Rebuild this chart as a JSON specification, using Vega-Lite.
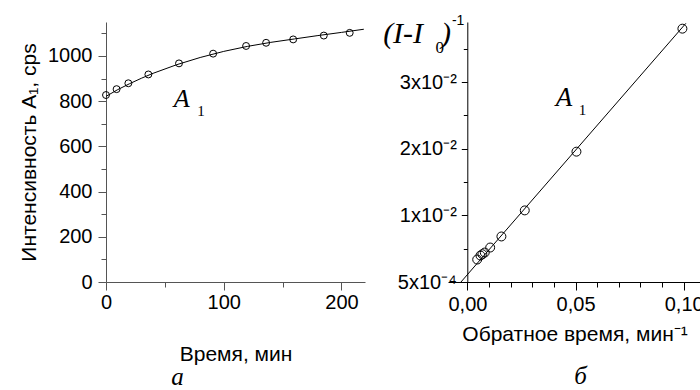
{
  "$schema": "https://vega.github.io/schema/vega-lite/v6.json",
  "autosize": {"type": "pad"},
  "padding": {"left": 18, "top": 13, "right": 0, "bottom": 0},
  "background": "white",
  "bounds": "flush",
  "spacing": 83,
  "config": {"view": {"stroke": null}, "font": "Liberation Sans", "axis": {"grid": false, "labelColor": "black", "titleColor": "black", "titleFontWeight": "normal"}},
  "datasets": {
    "curve": [
      {"t": 0, "I": 821}, {"t": 10, "I": 851}, {"t": 20, "I": 877}, {"t": 30, "I": 901},
      {"t": 40, "I": 923}, {"t": 60, "I": 961}, {"t": 80, "I": 993}, {"t": 100, "I": 1020},
      {"t": 120, "I": 1042}, {"t": 140, "I": 1060}, {"t": 160, "I": 1075}, {"t": 180, "I": 1090},
      {"t": 200, "I": 1104}, {"t": 219, "I": 1118}
    ],
    "points": [
      {"t": 0, "I": 827}, {"t": 9, "I": 853}, {"t": 19, "I": 879}, {"t": 36, "I": 918},
      {"t": 62, "I": 967}, {"t": 91, "I": 1010}, {"t": 119, "I": 1044}, {"t": 136, "I": 1058},
      {"t": 159, "I": 1073}, {"t": 185, "I": 1090}, {"t": 207, "I": 1102}
    ],
    "fit": [
      {"inv": -0.003, "r": 0}, {"inv": 0.101, "r": 0.0388}
    ],
    "inverse": [
      {"inv": 0.0994, "r": 0.0380}, {"inv": 0.0504, "r": 0.01955}, {"inv": 0.0265, "r": 0.01074},
      {"inv": 0.0157, "r": 0.00683}, {"inv": 0.0105, "r": 0.00517}, {"inv": 0.0080, "r": 0.00442},
      {"inv": 0.0069, "r": 0.00417}, {"inv": 0.0060, "r": 0.00397}, {"inv": 0.0045, "r": 0.00337}
    ]
  },
  "hconcat": [
    {
      "width": 259,
      "height": 260,
      "title": {"text": "а", "orient": "bottom", "anchor": "middle", "dx": -58, "offset": 1, "font": "Liberation Serif", "fontStyle": "italic", "fontWeight": "normal", "fontSize": 25, "color": "black"},
      "resolve": {"axis": {"x": "independent", "y": "independent"}},
      "layer": [
        {
          "data": {"name": "curve"},
          "mark": {"type": "line", "color": "black", "strokeWidth": 1, "clip": false},
          "encoding": {
            "x": {"field": "t", "type": "quantitative", "scale": {"domain": [0, 220], "nice": false, "zero": false},
              "axis": {"orient": "bottom", "values": [0, 100, 200], "format": "d", "tickSize": 8, "labelPadding": 2, "labelFontSize": 20, "domainColor": "#555", "tickColor": "#555", "title": "Время, мин", "titleFontSize": 21, "titlePadding": 31, "labelFlush": false}},
            "y": {"field": "I", "type": "quantitative", "scale": {"domain": [0, 1150], "nice": false, "zero": false},
              "axis": {"orient": "left", "values": [0, 200, 400, 600, 800, 1000], "format": "d", "tickSize": 8, "labelPadding": 6, "labelFontSize": 20, "domainColor": "#555", "tickColor": "#555", "title": "Интенсивность A₁, cps", "titleFontSize": 21, "titlePadding": 8}}
          }
        },
        {
          "data": {"name": "points"},
          "mark": {"type": "point", "shape": "circle", "filled": false, "stroke": "black", "strokeWidth": 1, "opacity": 1, "size": 48},
          "encoding": {
            "x": {"field": "t", "type": "quantitative", "axis": {"orient": "bottom", "values": [50, 150], "tickSize": 5, "labels": false, "domain": false, "tickColor": "#555", "title": null}},
            "y": {"field": "I", "type": "quantitative", "axis": {"orient": "left", "values": [100, 300, 500, 700, 900, 1100], "tickSize": 5, "labels": false, "domain": false, "tickColor": "#555", "title": null}}
          }
        },
        {
          "data": {"values": [{"s": "A"}]},
          "mark": {"type": "text", "font": "Liberation Serif", "fontStyle": "italic", "fontSize": 26, "align": "left", "baseline": "alphabetic", "color": "black"},
          "encoding": {
            "x": {"datum": 57.5, "type": "quantitative", "axis": null},
            "y": {"datum": 772, "type": "quantitative", "axis": null},
            "text": {"field": "s"}
          }
        },
        {
          "data": {"values": [{"s": "1"}]},
          "mark": {"type": "text", "font": "Liberation Serif", "fontSize": 15, "align": "left", "baseline": "alphabetic", "color": "black"},
          "encoding": {
            "x": {"datum": 77.5, "type": "quantitative", "axis": null},
            "y": {"datum": 733, "type": "quantitative", "axis": null},
            "text": {"field": "s"}
          }
        }
      ]
    },
    {
      "width": 253,
      "height": 260,
      "title": {"text": "б", "orient": "bottom", "anchor": "middle", "dx": 6, "offset": 20, "font": "Liberation Serif", "fontStyle": "italic", "fontWeight": "normal", "fontSize": 25, "color": "black"},
      "resolve": {"axis": {"x": "independent", "y": "independent"}},
      "layer": [
        {
          "data": {"name": "fit"},
          "mark": {"type": "line", "color": "black", "strokeWidth": 1, "clip": false},
          "encoding": {
            "x": {"field": "inv", "type": "quantitative", "scale": {"domain": [-0.009, 0.108], "nice": false, "zero": false},
              "axis": {"orient": "bottom", "values": [0, 0.05, 0.1], "labelExpr": "replace(format(datum.value, '.2f'), '.', ',')", "tickSize": 8, "labelPadding": 4, "labelFontSize": 20, "domainColor": "black", "tickColor": "black", "title": "Обратное время, мин⁻¹", "titleFontSize": 21, "titlePadding": 9, "labelFlush": false}},
            "y": {"field": "r", "type": "quantitative", "scale": {"domain": [0, 0.039], "nice": false, "zero": false},
              "axis": {"orient": "left", "offset": -19.3, "values": [0, 0.01, 0.02, 0.03], "labelExpr": "datum.value == 0 ? '5x10⁻⁴' : round(datum.value * 100) + 'x10⁻²'", "tickSize": 6, "labelPadding": 5, "labelFontSize": 20, "domainColor": "black", "tickColor": "black", "title": null}}
          }
        },
        {
          "data": {"name": "inverse"},
          "mark": {"type": "point", "shape": "circle", "filled": false, "stroke": "black", "strokeWidth": 1, "opacity": 1, "size": 80},
          "encoding": {
            "x": {"field": "inv", "type": "quantitative", "axis": {"orient": "bottom", "values": [0.01, 0.02, 0.03, 0.04, 0.06, 0.07, 0.08, 0.09], "tickSize": 5, "labels": false, "domain": false, "tickColor": "black", "title": null}},
            "y": {"field": "r", "type": "quantitative", "axis": {"orient": "left", "offset": -19.3, "values": [0.005, 0.015, 0.025, 0.035], "tickSize": 4, "labels": false, "domain": false, "tickColor": "black", "title": null}}
          }
        },
        {
          "data": {"values": [{"s": "A"}]},
          "mark": {"type": "text", "font": "Liberation Serif", "fontStyle": "italic", "fontSize": 27, "align": "left", "baseline": "alphabetic", "color": "black"},
          "encoding": {
            "x": {"datum": 0.0408, "type": "quantitative", "axis": null},
            "y": {"datum": 0.02642, "type": "quantitative", "axis": null},
            "text": {"field": "s"}
          }
        },
        {
          "data": {"values": [{"s": "1"}]},
          "mark": {"type": "text", "font": "Liberation Serif", "fontSize": 15, "align": "left", "baseline": "alphabetic", "color": "black"},
          "encoding": {
            "x": {"datum": 0.0515, "type": "quantitative", "axis": null},
            "y": {"datum": 0.02508, "type": "quantitative", "axis": null},
            "text": {"field": "s"}
          }
        },
        {
          "data": {"values": [{"s": "(I-I"}]},
          "mark": {"type": "text", "font": "Liberation Serif", "fontStyle": "italic", "fontSize": 30, "align": "left", "baseline": "alphabetic", "color": "black"},
          "encoding": {
            "x": {"datum": -0.0390, "type": "quantitative", "axis": null},
            "y": {"datum": 0.03585, "type": "quantitative", "axis": null},
            "text": {"field": "s"}
          }
        },
        {
          "data": {"values": [{"s": "0"}]},
          "mark": {"type": "text", "font": "Liberation Serif", "fontSize": 17, "align": "left", "baseline": "alphabetic", "color": "black"},
          "encoding": {
            "x": {"datum": -0.0148, "type": "quantitative", "axis": null},
            "y": {"datum": 0.03430, "type": "quantitative", "axis": null},
            "text": {"field": "s"}
          }
        },
        {
          "data": {"values": [{"s": ")"}]},
          "mark": {"type": "text", "font": "Liberation Serif", "fontStyle": "italic", "fontSize": 30, "align": "left", "baseline": "alphabetic", "color": "black"},
          "encoding": {
            "x": {"datum": -0.0122, "type": "quantitative", "axis": null},
            "y": {"datum": 0.03585, "type": "quantitative", "axis": null},
            "text": {"field": "s"}
          }
        },
        {
          "data": {"values": [{"s": "-1"}]},
          "mark": {"type": "text", "font": "Liberation Sans", "fontSize": 14, "align": "left", "baseline": "alphabetic", "color": "black"},
          "encoding": {
            "x": {"datum": -0.0072, "type": "quantitative", "axis": null},
            "y": {"datum": 0.0386, "type": "quantitative", "axis": null},
            "text": {"field": "s"}
          }
        }
      ]
    }
  ]
}
